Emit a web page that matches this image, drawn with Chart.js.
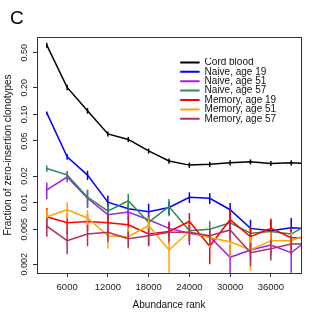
<!DOCTYPE html>
<html>
<head>
<meta charset="utf-8">
<script src="https://cdn.jsdelivr.net/npm/chart.js@4.4.0/dist/chart.umd.min.js"></script>
<style>
  html, body { margin: 0; padding: 0; background: #fff; }
</style>
</head>
<body>
<canvas id="chart" width="320" height="320"></canvas>
<script>
// --- data ---
const ranks = [3000, 6000, 9000, 12000, 15000, 18000, 21000, 24000, 27000, 30000, 33000, 36000, 39000, 42000];

const cordBlood    = [0.61, 0.202, 0.110, 0.060, 0.052, 0.0385, 0.0296, 0.0266, 0.0272, 0.0283, 0.029, 0.0278, 0.0283, 0.0275];
const cordBloodErr = [0.04, 0.014, 0.008, 0.004, 0.0035, 0.0025, 0.002, 0.0018, 0.0018, 0.0019, 0.0019, 0.0018, 0.0019, 0.0018];

const naive19    = [0.104, 0.033, 0.0205, 0.0101, 0.0085, 0.0079, 0.0088, 0.0115, 0.0112, 0.0083, 0.0051, 0.0048, 0.0052, 0.0050];
const naive19Err = [0.004, 0.0025, 0.0025, 0.0019, 0.0013, 0.0018, 0.0015, 0.0016, 0.0016, 0.0016, 0.0013, 0.0015, 0.0015, 0.0015];

const naive51    = [0.0139, 0.0195, 0.0112, 0.0073, 0.0078, 0.0064, 0.0051, 0.0045, 0.0041, 0.0024, 0.0029, 0.0033, 0.0027, 0.0041];
const naive51Err = [0.003, 0.0025, 0.0025, 0.0014, 0.0015, 0.0012, 0.001, 0.0012, 0.001, 0.0009, 0.0007, 0.0008, 0.0011, 0.001];

const naive57    = [0.0244, 0.0206, 0.0115, 0.0080, 0.0105, 0.0060, 0.0090, 0.0048, 0.0050, 0.0059, 0.0045, 0.0047, 0.0044, 0.0060];
const naive57Err = [0.002, 0.0022, 0.0025, 0.0013, 0.0021, 0.001, 0.002, 0.001, 0.0012, 0.0011, 0.0009, 0.0009, 0.0008, 0.001];

const memory19    = [0.0069, 0.0059, 0.0061, 0.0059, 0.0056, 0.0044, 0.0047, 0.0061, 0.0032, 0.0064, 0.0041, 0.0051, 0.0040, 0.0040];
const memory19Err = [0.0018, 0.0015, 0.0013, 0.0015, 0.0014, 0.0012, 0.0013, 0.0015, 0.0012, 0.0019, 0.0012, 0.0015, 0.0012, 0.0012];

const memory51    = [0.0069, 0.0083, 0.0067, 0.0042, 0.0041, 0.0055, 0.0029, 0.0047, 0.0040, 0.0036, 0.0029, 0.0037, 0.0037, 0.0046];
const memory51Err = [0.0015, 0.0018, 0.0015, 0.0012, 0.0011, 0.0012, 0.0013, 0.001, 0.0009, 0.0012, 0.0012, 0.0009, 0.0009, 0.001];

const memory57    = [0.0054, 0.0037, 0.0044, 0.0046, 0.0039, 0.0042, 0.0046, 0.0046, 0.0042, 0.0049, 0.0027, 0.0030, 0.0034, 0.0034];
const memory57Err = [0.0013, 0.0011, 0.0012, 0.001, 0.0008, 0.0009, 0.001, 0.001, 0.0009, 0.0012, 0.0008, 0.0008, 0.0008, 0.0008];

const xTicks = [6000, 12000, 18000, 24000, 30000, 36000];
const yTicks = [0.002, 0.005, 0.01, 0.02, 0.05, 0.1, 0.2, 0.5];
const yTickLabels = ['0.002', '0.005', '0.01', '0.02', '0.05', '0.10', '0.20', '0.50'];

// axis ranges (R pads the limits by 4%)
const xMin = 1560, xMax = 40440;
const yMin = 0.001592, yMax = 0.7536;

const series = [
  { label: 'Cord blood',      color: '#000000', values: cordBlood, errors: cordBloodErr },
  { label: 'Naive, age 19',   color: '#0000ff', values: naive19,   errors: naive19Err },
  { label: 'Naive, age 51',   color: '#a020f0', values: naive51,   errors: naive51Err },
  { label: 'Naive, age 57',   color: '#2e8b57', values: naive57,   errors: naive57Err },
  { label: 'Memory, age 19',  color: '#ff0000', values: memory19,  errors: memory19Err },
  { label: 'Memory, age 51',  color: '#ffa500', values: memory51,  errors: memory51Err },
  { label: 'Memory, age 57',  color: '#b03060', values: memory57,  errors: memory57Err }
];

Chart.defaults.font.family = '"Liberation Sans", Arial, sans-serif';

// vertical error bars, drawn through the scales
const errorBars = {
  id: 'errorBars',
  afterDatasetDraw(chart, args) {
    const ds = chart.data.datasets[args.index];
    const { ctx, chartArea: a } = chart;
    const xs = chart.scales.x, ys = chart.scales.y;
    ctx.save();
    ctx.beginPath();
    ctx.rect(a.left, a.top, a.right - a.left, a.bottom - a.top);
    ctx.clip();
    ctx.strokeStyle = ds.borderColor;
    ctx.lineWidth = 1.5;
    ds.data.forEach((p, i) => {
      const e = ds.errors[i];
      const px = xs.getPixelForValue(p.x);
      const top = ys.getPixelForValue(p.y + e);
      const bot = p.y - e > 0 ? ys.getPixelForValue(p.y - e) : a.bottom;
      ctx.beginPath();
      ctx.moveTo(px, top);
      ctx.lineTo(px, bot);
      ctx.stroke();
    });
    ctx.restore();
  }
};

// box around plot + panel letter
const frame = {
  id: 'frame',
  afterDraw(chart) {
    const { ctx, chartArea: a } = chart;
    ctx.save();
    ctx.strokeStyle = '#333';
    ctx.lineWidth = 1;
    ctx.strokeRect(a.left + 0.5, a.top + 0.5, a.right - a.left, a.bottom - a.top);
    ctx.fillStyle = '#000';
    ctx.font = '19px "Liberation Sans", Arial, sans-serif';
    ctx.textBaseline = 'middle';
    ctx.fillText('C', 10, 19);
    ctx.restore();
  }
};

// put the legend inside the plot, top right
const legendPlace = {
  id: 'legendPlace',
  afterLayout(chart) {
    const lg = chart.legend;
    const a = chart.chartArea;
    lg.left = a.left + 143.2;
    lg.top = a.top + 21;
    lg.right = lg.left + lg.width;
    lg.bottom = lg.top + lg.height;
  }
};

new Chart(document.getElementById('chart'), {
  type: 'line',
  data: {
    datasets: series.map((s, i) => ({
      label: s.label,
      data: ranks.map((r, j) => ({ x: r, y: s.values[j] })),
      errors: s.errors,
      borderColor: s.color,
      backgroundColor: s.color,
      borderWidth: 1.5,
      pointRadius: 0,
      tension: 0,
      fill: false,
      order: series.length - i
    }))
  },
  options: {
    responsive: false,
    animation: false,
    layout: { padding: { left: 2.5, right: 19, top: 37, bottom: 9 } },
    plugins: {
      tooltip: { enabled: false },
      legend: {
        position: 'chartArea',
        align: 'start',
        labels: {
          boxWidth: 20,
          boxHeight: 2,
          padding: -0.6,
          color: '#111',
          font: { size: 10 },
          sort: (a, b) => a.datasetIndex - b.datasetIndex,
          generateLabels: chart => Chart.defaults.plugins.legend.labels.generateLabels(chart)
            .map(l => ({ ...l, fillStyle: l.strokeStyle, lineWidth: 0 }))
        }
      }
    },
    scales: {
      x: {
        type: 'linear',
        min: xMin,
        max: xMax,
        afterBuildTicks: s => { s.ticks = xTicks.map(v => ({ value: v })); },
        afterFit: s => { s.height = 38; s.paddingLeft = 0; s.paddingRight = 0; },
        ticks: { autoSkip: false, maxRotation: 0, padding: 4.5, color: '#222', font: { size: 9.5 },
                 callback: v => String(v) },
        grid: { drawOnChartArea: false, drawTicks: true, tickLength: 4, color: '#333' },
        border: { display: false },
        title: { display: true, text: 'Abundance rank', color: '#111', font: { size: 10 }, padding: 0 }
      },
      y: {
        type: 'logarithmic',
        min: yMin,
        max: yMax,
        afterBuildTicks: s => { s.ticks = yTicks.map(v => ({ value: v })); },
        afterFit: s => { s.width = 34.5; s.paddingTop = 0; s.paddingBottom = 0; },
        ticks: { autoSkip: false, minRotation: 90, maxRotation: 90, crossAlign: 'center', padding: -2.3,
                 color: '#222', font: { size: 9 },
                 callback: v => yTickLabels[yTicks.indexOf(v)] },
        grid: { drawOnChartArea: false, drawTicks: true, tickLength: 4, color: '#333' },
        border: { display: false },
        title: { display: true, text: 'Fraction of zero-insertion clonotypes', color: '#111', font: { size: 10 }, padding: 0 }
      }
    }
  },
  plugins: [errorBars, frame, legendPlace]
});
</script>
</body>
</html>
